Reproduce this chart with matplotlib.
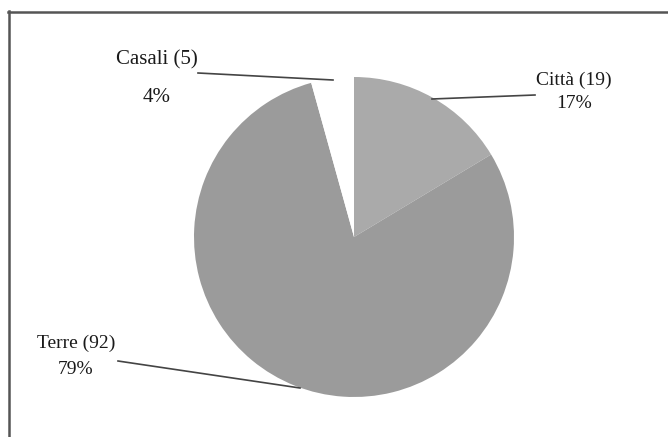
import matplotlib
matplotlib.use("Agg")
import matplotlib.pyplot as plt
from matplotlib.lines import Line2D

categories = ["Città", "Terre", "Casali"]
counts = [19, 92, 5]
percent_labels = ["17%", "79%", "4%"]
colors = ["#aaaaaa", "#9b9b9b", "#ffffff"]

W, H = 668, 437
fig = plt.figure(figsize=(W / 100, H / 100), dpi=100)
fig.patch.set_facecolor("white")

def fx(x):
    return x / W

def fy(y):
    return 1 - y / H

# pie axes: centre (354, 237), radius 160 px
cx, cy, r = 354, 237, 160
ax = fig.add_axes([fx(cx - r), fy(cy + r), 2 * r / W, 2 * r / H])
ax.pie(counts, colors=colors, startangle=90, counterclock=False,
       wedgeprops=dict(linewidth=0), radius=1.0)
ax.set_xlim(-1, 1)
ax.set_ylim(-1, 1)
ax.set_aspect("equal")
ax.axis("off")

# labels: (x, y of name line, y of percent line, font size)
lbl_pos = {
    "Città": (574, 80, 103, 14),
    "Terre": (76, 343, 370, 14),
    "Casali": (157, 60, 98, 15),
}
for cat, n, pct in zip(categories, counts, percent_labels):
    x, y1, y2, fs = lbl_pos[cat]
    font = dict(family="Liberation Serif", size=fs, color="#1a1a1a")
    fig.text(fx(x), fy(y1), f"{cat} ({n})", ha="center", va="center", **font)
    fig.text(fx(x), fy(y2), pct, ha="center", va="center", **font)

# leader lines
leaders = [
    ((432, 99), (535, 95)),
    ((198, 73), (333, 80)),
    ((118, 361), (300, 388)),
]
for (x1, y1), (x2, y2) in leaders:
    fig.add_artist(Line2D([fx(x1), fx(x2)], [fy(y1), fy(y2)],
                          color="#444444", linewidth=1.2))

# frame: top and left lines only
fig.add_artist(Line2D([fx(8), fx(668)], [fy(11.5), fy(11.5)], color="#555555", linewidth=1.8))
fig.add_artist(Line2D([fx(8.5), fx(8.5)], [fy(11), fy(437)], color="#555555", linewidth=1.8))

fig.savefig("out.png", dpi=100, facecolor="white")
